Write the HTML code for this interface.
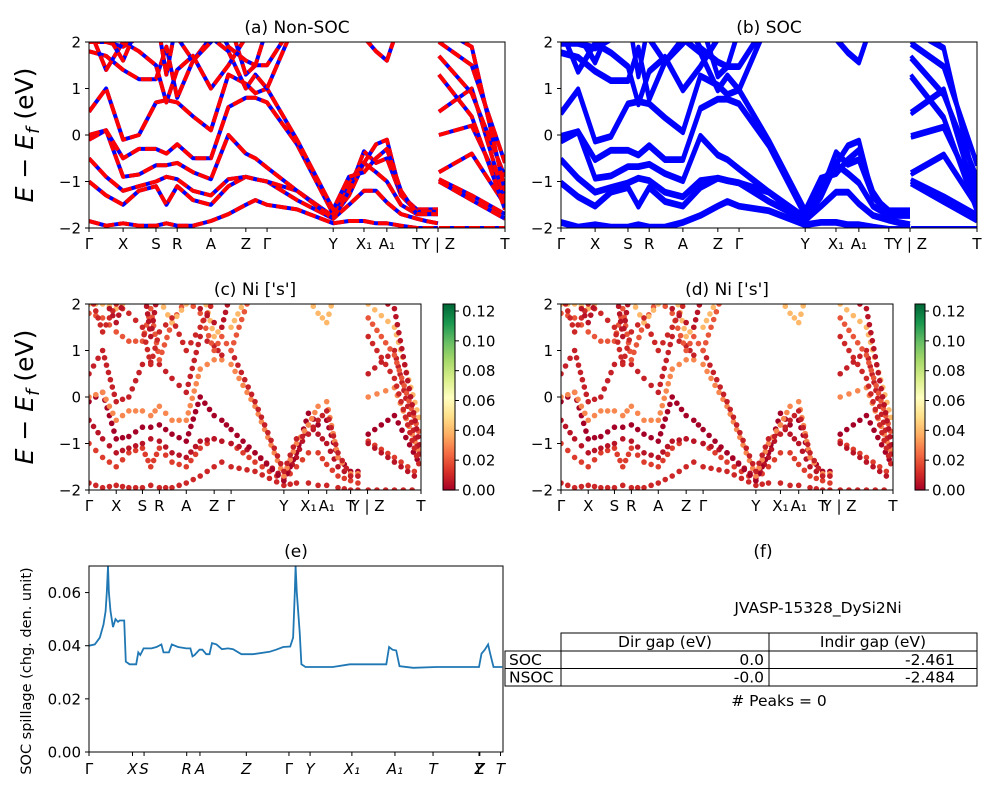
<!DOCTYPE html>
<html><head><meta charset="utf-8">
<style>
body{margin:0;background:#fff;}
svg{display:block;font-family:"DejaVu Sans","Liberation Sans",sans-serif;}
</style></head>
<body>
<svg id="fig" width="1000" height="800" viewBox="0 0 1000 800" xmlns="http://www.w3.org/2000/svg"></svg>
<script>
// ---- data ----
const kGrid = [0,.041,.082,.12,.161,.186,.212,.25,.293,.335,.377,.40,.428,.50,.587,.625,.661,.69,.716,.75,.788,.81,.839,.841,.92,1.0];
const breakAfter = 22;
const kTickPos = [0,.082,.161,.212,.293,.377,.428,.587,.661,.716,.788,.839,1.0];
const kTickLabels = ["Γ","X","S","R","A","Z","Γ","Y","X₁","A₁","T","Y | Z","T"];
const band1 = [-1.85,-1.95,-1.9,-1.95,-1.95,-1.9,-1.95,-1.95,-1.85,-1.7,-1.5,-1.4,-1.5,-1.6,-1.9,-1.85,-1.85,-1.9,-1.9,-1.95,-2.0,-2.0,-2.0,-2.0,-2.0,-2.0];
const band2 = [-1.0,-1.3,-1.5,-1.2,-1.1,-1.5,-1.1,-1.4,-1.5,-1.1,-0.9,-0.95,-1.0,-1.4,-1.8,-1.5,-1.2,-1.2,-1.45,-1.7,-1.8,-1.85,-1.9,-0.95,-1.3,-1.7];
const band3 = [-0.5,-0.9,-1.2,-1.1,-1.0,-0.9,-0.95,-1.2,-1.3,-0.95,-0.9,-0.95,-1.0,-1.2,-1.75,-1.3,-0.6,-0.8,-1.0,-1.5,-1.7,-1.7,-1.7,-1.0,-1.4,-1.8];
const band4 = [-0.1,0.1,-0.9,-0.85,-0.65,-0.65,-0.6,-0.8,-0.95,0.0,-0.4,-0.5,-0.7,-1.2,-1.8,-1.2,-0.35,-0.6,-0.5,-1.3,-1.6,-1.6,-1.6,-0.8,-0.4,-1.5];
const band5 = [0.0,0.1,-0.5,-0.3,-0.3,-0.4,-0.2,-0.5,-0.5,0.6,0.8,0.8,0.7,-0.2,-1.7,-1.0,-0.6,-0.2,-0.1,-1.3,-1.65,-1.65,-1.65,0.0,0.2,-1.3];
const band6 = [0.5,1.0,-0.1,0.0,0.7,0.75,0.7,0.4,0.1,1.3,1.1,0.9,1.0,-0.1,-1.6,-0.9,-0.8,-0.5,-0.3,-1.2,-1.7,-1.7,-1.7,0.5,1.0,-1.4];
const band7 = [1.8,1.7,1.4,1.2,1.2,1.9,0.8,1.6,2.1,1.8,1.0,1.3,1.0,2.5,3,3,3,3,3,3,3,3,3,1.7,0.9,-0.9];
const band8 = [2.0,2.0,1.9,2.1,2.2,2.5,2.1,1.6,2.0,2.5,1.3,1.5,1.5,2.5,3,3,2.1,1.8,1.6,2.5,3,3,3,2.0,1.5,-0.6];
const band9 = [2.3,1.4,2.0,1.8,1.5,0.7,1.4,1.7,1.0,1.5,2.1,2.3,2.4,3,3,3,3,3,3,3,3,3,3,1.3,0.4,-1.6];
const band10 = [2.5,2.2,1.6,2.4,2.6,1.3,2.5,2.2,2.6,1.9,1.6,1.5,2.3,3,3,3,3,3,3,3,3,3,3,2.3,1.9,-1.2];
const bands = [band1,band2,band3,band4,band5,band6,band7,band8,band9,band10];
const bandWeights = [0.01,0.015,0.005,0.0,0.03,0.008,0.02,0.04,0.01,0.005];
const spillK = [0,.014,.026,.035,.040,.043,.046,.048,.052,.058,.064,.070,.074,.085,.089,.098,.114,.119,.124,.132,.151,.163,.175,.180,.193,.200,.215,.235,.245,.250,.255,.267,.274,.283,.291,.297,.308,.321,.336,.348,.368,.396,.436,.452,.469,.486,.493,.497,.499,.502,.509,.513,.523,.589,.630,.718,.725,.733,.742,.750,.783,.839,.942,.948,.956,.964,.969,.977,.998];
const spillV = [.040,.0405,.043,.048,.053,.060,.070,.060,.053,.047,.050,.049,.0495,.0495,.034,.033,.033,.0375,.0365,.039,.039,.0395,.0405,.0375,.0375,.0405,.0395,.039,.039,.036,.0365,.0385,.0385,.0368,.0368,.041,.0405,.0387,.039,.0387,.0368,.0368,.0377,.0385,.0395,.0397,.043,.060,.070,.060,.045,.033,.032,.032,.033,.033,.0395,.0385,.0382,.0323,.0317,.032,.032,.037,.0385,.0405,.037,.032,.032];
const spillTickPos = [0,.105,.133,.236,.268,.380,.483,.534,.635,.739,.831,.942,.944,.994];
const spillTickLabels = ["Γ","X","S","R","A","Z","Γ","Y","X₁","A₁","T","Y","Z","T"];
const spillYTicks = [0,0.02,0.04,0.06];
const cbTicks = [0,0.02,0.04,0.06,0.08,0.10,0.12];
const tableRows = [["SOC","0.0","-2.461"],["NSOC","-0.0","-2.484"]];

const NS="http://www.w3.org/2000/svg";
const fig=document.getElementById('fig');
function mk(tag,attrs,parent){const e=document.createElementNS(NS,tag);for(const k in attrs)e.setAttribute(k,attrs[k]);(parent||fig).appendChild(e);return e;}
function txt(s,x,y,size,anchor,parent,extra){const t=mk('text',Object.assign({x:x,y:y,'font-size':size,'text-anchor':anchor||'middle',fill:'#000'},extra||{}),parent);t.textContent=s;return t;}
const cmapStops=[[0,[165,0,38]],[.1,[215,48,39]],[.2,[244,109,67]],[.3,[253,174,97]],[.4,[254,224,139]],[.5,[255,255,191]],[.6,[217,239,139]],[.7,[166,217,106]],[.8,[102,189,99]],[.9,[26,152,80]],[1,[0,104,55]]];
function cmap(t){t=Math.max(0,Math.min(1,t));for(let i=1;i<cmapStops.length;i++){if(t<=cmapStops[i][0]){const a=cmapStops[i-1],b=cmapStops[i];const f=(t-a[0])/(b[0]-a[0]);const c=a[1].map((v,j)=>Math.round(v+(b[1][j]-v)*f));return 'rgb('+c.join(',')+')';}}return 'rgb(0,104,55)';}
const cbMax=0.1247;

function bandPanel(id,x0,y0,w,h,title,mode){
  const g=mk('g',{},fig);
  
  
  const clip=mk('clipPath',{id:'clip-'+id},fig);
  mk('rect',{x:x0,y:y0,width:w,height:h},clip);
  const xs=k=>x0+k*w, ys=e=>y0+h-(e+2)/4*h;
  const plot=mk('g',{'clip-path':'url(#clip-'+id+')'},g);
  bands.forEach((b,bi)=>{
    const segs=[[0,breakAfter],[breakAfter+1,kGrid.length-1]];
    segs.forEach(([a,z])=>{
      if(mode==='scatter'){
        for(let i=a;i<z;i++){
          const xa=xs(kGrid[i]),xb=xs(kGrid[i+1]),ya=ys(b[i]),yb=ys(b[i+1]);
          const n=Math.max(1,Math.round(Math.hypot(xb-xa,yb-ya)/8));
          for(let j=0;j<n;j++){const t=j/n;
            const c=mk('circle',{cx:xa+(xb-xa)*t,cy:ya+(yb-ya)*t,r:2.8,fill:cmap(bandWeights[bi]/cbMax)},plot);
            
            
          }
        }
      } else {
        let d='';for(let i=a;i<=z;i++)d+=(i===a?'M':'L')+xs(kGrid[i]).toFixed(1)+','+ys(b[i]).toFixed(1);
        if(mode==='soc'){
          [0,0.06].forEach(off=>{
            let d2='';for(let i=a;i<=z;i++)d2+=(i===a?'M':'L')+xs(kGrid[i]).toFixed(1)+','+ys(b[i]-off).toFixed(1);
            const p=mk('path',{d:d2,fill:'none',stroke:'#0000ff','stroke-width':4,'stroke-linejoin':'round'},plot);
            
            
          });
        } else {
          const p=mk('path',{d:d,fill:'none',stroke:'#0000ff','stroke-width':4,'stroke-linejoin':'round'},plot);
          
          
          const q=mk('path',{d:d,fill:'none',stroke:'#ff0000','stroke-width':4,'stroke-dasharray':'11,4','stroke-linejoin':'round'},plot);
          
          
        }
      }
    });
  });
  mk('rect',{x:x0,y:y0,width:w,height:h,fill:'none',stroke:'#000','stroke-width':1},g);
  [-2,-1,0,1,2].forEach(v=>{mk('line',{x1:x0-4,x2:x0,y1:ys(v),y2:ys(v),stroke:'#000'},g);
    const t=txt(v<0?'−'+(-v):String(v),x0-8,ys(v)+5.5,15,'end',g);
    });
  kTickPos.forEach((k,i)=>{mk('line',{x1:xs(k),x2:xs(k),y1:y0+h,y2:y0+h+4,stroke:'#000'},g);
    const t=txt(kTickLabels[i],xs(k),y0+h+21,15,'middle',g);
    });
  const tt=txt(title,x0+w/2,y0-9,17,'middle',g);
  
}
function colorbar(x0,y0,w,h){
  const g=mk('g',{},fig);
  
  
  const n=93;
  for(let i=0;i<n;i++){mk('rect',{x:x0,y:y0+h-(i+1)*h/n,width:w,height:h/n+0.6,fill:cmap((i+0.5)/n)},g);}
  mk('rect',{x:x0,y:y0,width:w,height:h,fill:'none',stroke:'#000'},g);
  cbTicks.forEach(v=>{const y=y0+h-v/cbMax*h;mk('line',{x1:x0+w,x2:x0+w+4,y1:y,y2:y,stroke:'#000'},g);
    const t=txt(v.toFixed(2),x0+w+7,y+5.5,15,'start',g);});
}
bandPanel('a',89,42,416,186,'(a) Non-SOC','nonsoc');
bandPanel('b',561,42,416,186,'(b) SOC','soc');
bandPanel('c',89,304,332,186,'(c)  Ni [\'s\']','scatter');
bandPanel('d',561,304,332,186,'(d) Ni [\'s\']','scatter');
colorbar(443,304,12,186);
colorbar(915,304,10,186);
[[33,135],[33,397]].forEach(([x,y])=>{
  const t=mk('text',{x:x,y:y,'font-size':25,'text-anchor':'middle',transform:'rotate(-90 '+x+' '+y+')'});
  
  t.innerHTML='<tspan font-style="italic">E</tspan> − <tspan font-style="italic">E</tspan><tspan font-style="italic" font-size="18" dy="6">f</tspan><tspan dy="-6"> (eV)</tspan>';
});
// panel e
(function(){
  const x0=89,y0=566,w=414,h=186;
  const g=mk('g',{},fig);
  
  
  const xs=k=>x0+k*w, ys=v=>y0+h-v/0.07*h;
  let d='';spillK.forEach((k,i)=>{d+=(i?'L':'M')+xs(k).toFixed(1)+','+ys(spillV[i]).toFixed(1);});
  const cl=mk('clipPath',{id:'clip-e'},fig);mk('rect',{x:x0,y:y0,width:w,height:h},cl);
  const p=mk('path',{d:d,fill:'none',stroke:'#1f77b4','stroke-width':1.8,'clip-path':'url(#clip-e)'},g);
  
  mk('rect',{x:x0,y:y0,width:w,height:h,fill:'none',stroke:'#000'},g);
  spillYTicks.forEach(v=>{mk('line',{x1:x0-4,x2:x0,y1:ys(v),y2:ys(v),stroke:'#000'},g);
    const t=txt(v.toFixed(2),x0-8,ys(v)+5.5,15,'end',g);});
  spillTickPos.forEach((k,i)=>{mk('line',{x1:xs(k),x2:xs(k),y1:y0+h,y2:y0+h+4,stroke:'#000'},g);
    const t=txt(spillTickLabels[i],xs(k),y0+h+22,15,'middle',g,{'font-style':i===0||i===6?'normal':'italic'});
    });
  const tt=txt('(e)',x0+w/2,y0-9,17,'middle',g);
  const yl=mk('text',{x:31,y:y0+h/2+12,'font-size':14.5,'text-anchor':'middle',transform:'rotate(-90 31 '+(y0+h/2+12)+')'},g);
  yl.textContent='SOC spillage (chg. den. unit)';
  
})();
// panel f table
(function(){
  const g=mk('g',{},fig);
  
  
  let t=txt('(f)',763,557,17,'middle',g);
  t=txt('JVASP-15328_DySi2Ni',818,613,15.5,'middle',g);
  mk('rect',{x:561,y:633,width:416,height:18,fill:'none',stroke:'#000'},g);
  mk('line',{x1:769,x2:769,y1:633,y2:686,stroke:'#000'},g);
  txt('Dir gap (eV)',665,647,15.5,'middle',g);txt('Indir gap (eV)',873,647,15.5,'middle',g);
  tableRows.forEach((r,i)=>{const y=651+i*17.5;
    mk('rect',{x:505,y:y,width:472,height:17.5,fill:'none',stroke:'#000'},g);
    mk('line',{x1:561,x2:561,y1:y,y2:y+17.5,stroke:'#000'},g);
    let a=txt(r[0],509,y+14,15.5,'start',g);
    a=txt(r[1],764,y+14,15.5,'end',g);
    a=txt(r[2],955,y+14,15.5,'end',g);
  });
  t=txt('# Peaks = 0',779,706,15.5,'middle',g);
})();
</script>
</body></html>
